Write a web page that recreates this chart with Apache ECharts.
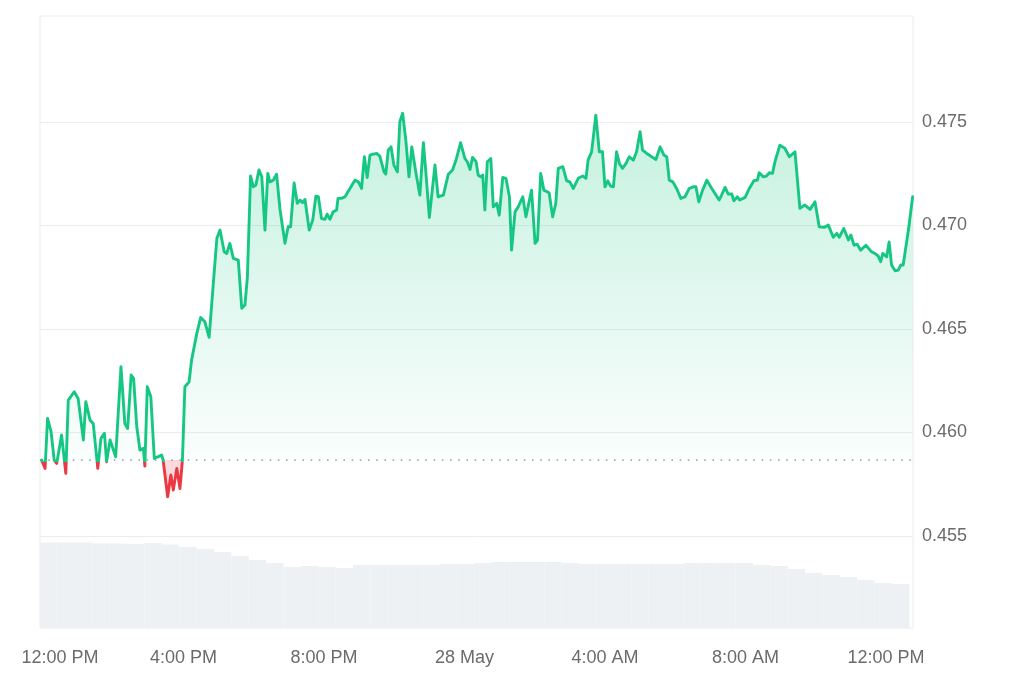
<!DOCTYPE html>
<html>
<head>
<meta charset="utf-8">
<script src="https://cdn.jsdelivr.net/npm/echarts@6/dist/echarts.min.js"></script>
<style>html,body{margin:0;padding:0;background:#fff}#c{width:1024px;height:683px}</style>
</head>
<body>
<div id="c"></div>
<script>
// hours since 12:00 PM (27 May)
const times = [-0.04,0.06,0.13,0.23,0.32,0.39,0.53,0.65,0.72,0.89,1.00,1.15,1.22,1.34,1.43,1.56,1.65,1.75,1.81,1.91,2.07,2.22,2.33,2.41,2.51,2.58,2.67,2.76,2.86,2.90,2.97,3.07,3.17,3.38,3.42,3.55,3.64,3.71,3.81,3.90,3.97,4.04,4.16,4.23,4.38,4.49,4.61,4.73,4.95,5.04,5.16,5.23,5.32,5.42,5.56,5.66,5.75,5.82,5.91,5.99,6.06,6.15,6.23,6.32,6.40,6.46,6.56,6.65,6.75,6.89,6.98,7.05,7.15,7.24,7.32,7.39,7.46,7.58,7.68,7.77,7.84,7.93,8.03,8.09,8.17,8.26,8.36,8.40,8.50,8.60,8.74,8.88,8.98,9.07,9.15,9.23,9.31,9.40,9.50,9.59,9.71,9.76,9.83,9.91,9.99,10.09,10.16,10.24,10.33,10.42,10.50,10.62,10.73,10.83,10.90,11.00,11.16,11.25,11.40,11.54,11.66,11.76,11.89,12.01,12.08,12.16,12.23,12.33,12.39,12.46,12.52,12.58,12.65,12.75,12.82,12.92,12.99,13.09,13.18,13.28,13.34,13.44,13.53,13.66,13.75,13.91,14.01,14.08,14.17,14.26,14.41,14.51,14.60,14.67,14.80,14.91,15.00,15.10,15.24,15.37,15.46,15.52,15.62,15.74,15.84,15.93,16.00,16.08,16.16,16.24,16.33,16.41,16.50,16.60,16.69,16.81,16.90,17.00,17.07,17.19,17.33,17.45,17.57,17.68,17.76,17.83,17.93,18.04,18.16,18.28,18.40,18.51,18.59,18.67,18.78,18.90,19.04,19.16,19.25,19.32,19.42,19.51,19.61,19.67,19.77,19.84,19.99,20.11,20.24,20.34,20.39,20.51,20.60,20.68,20.77,20.84,20.98,21.12,21.25,21.41,21.55,21.69,21.84,21.98,22.10,22.24,22.36,22.50,22.60,22.67,22.80,22.93,23.00,23.09,23.18,23.28,23.43,23.59,23.71,23.78,23.85,23.91,24.02,24.09,24.16,24.26,24.35,24.42,24.49,24.64,24.76];
const prices = [0.45866,0.45826,0.46067,0.46003,0.45866,0.4585,0.45987,0.45802,0.46156,0.46196,0.46164,0.45963,0.46148,0.46059,0.46043,0.45826,0.45971,0.45995,0.45858,0.45963,0.45882,0.46317,0.46043,0.46019,0.46277,0.46261,0.46027,0.45914,0.45923,0.45837,0.4622,0.46172,0.45874,0.4589,0.45866,0.45689,0.45794,0.45721,0.45826,0.45729,0.45866,0.4622,0.46244,0.46349,0.46478,0.46555,0.46534,0.46459,0.46937,0.46977,0.46872,0.46864,0.46913,0.4684,0.46832,0.46599,0.46615,0.46751,0.47238,0.47186,0.47194,0.47267,0.47234,0.46977,0.47251,0.4721,0.47218,0.47247,0.47074,0.46913,0.46993,0.46993,0.47205,0.47106,0.47122,0.47109,0.47125,0.46977,0.47025,0.47141,0.47138,0.47033,0.47029,0.47054,0.47029,0.47065,0.47074,0.4713,0.4713,0.47138,0.47178,0.47218,0.4721,0.47178,0.47331,0.47231,0.47339,0.47344,0.47347,0.47334,0.47258,0.47247,0.47363,0.47379,0.47291,0.47258,0.475,0.47541,0.47412,0.47234,0.47379,0.47251,0.47146,0.47399,0.47258,0.47038,0.47291,0.47138,0.47146,0.47247,0.47267,0.47315,0.47399,0.47323,0.47307,0.4727,0.47328,0.47307,0.47243,0.47234,0.47243,0.47074,0.47307,0.47323,0.47089,0.47106,0.47049,0.47231,0.47227,0.47138,0.4688,0.47065,0.47089,0.47138,0.47041,0.4717,0.46913,0.46929,0.47251,0.4717,0.47157,0.47041,0.47106,0.47275,0.47283,0.47215,0.4721,0.47178,0.47227,0.47238,0.47227,0.47315,0.47355,0.47532,0.47355,0.47355,0.47186,0.47215,0.47189,0.47186,0.47355,0.47299,0.47275,0.47299,0.47331,0.47315,0.47355,0.47452,0.47363,0.47347,0.47331,0.47318,0.47379,0.47339,0.47331,0.47218,0.4721,0.47178,0.4713,0.47138,0.47178,0.47186,0.47186,0.47114,0.4717,0.47218,0.47178,0.47146,0.47122,0.47146,0.47183,0.47151,0.47151,0.47118,0.47138,0.47122,0.47135,0.47178,0.47215,0.47218,0.47254,0.47234,0.47238,0.47254,0.47251,0.47307,0.47387,0.47372,0.47331,0.47355,0.47082,0.47098,0.47077,0.47114,0.46993,0.4699,0.47001,0.46942,0.46961,0.46942,0.46985,0.46929,0.46953,0.46904,0.46909,0.4688,0.46904,0.46872,0.46861,0.46851,0.46824,0.46864,0.46848,0.4692,0.46808,0.4678,0.46784,0.46808,0.46808,0.46977,0.47138];
const baseline = 0.45866;

const volTimes = [0.165,0.66,1.155,1.65,2.145,2.64,3.135,3.63,4.125,4.62,5.115,5.61,6.105,6.6,7.095,7.59,8.085,8.58,9.075,9.57,10.065,10.56,11.055,11.55,12.045,12.54,13.035,13.53,14.025,14.52,15.015,15.51,16.005,16.5,16.995,17.49,17.985,18.48,18.975,19.47,19.965,20.46,20.955,21.45,21.945,22.44,22.935,23.43,23.925,24.42];
const volumes = [13.97,13.97,13.97,13.81,13.81,13.73,13.89,13.64,13.24,12.91,12.42,11.76,11.11,10.62,9.97,10.13,9.97,9.80,10.29,10.29,10.29,10.29,10.29,10.46,10.46,10.62,10.78,10.78,10.78,10.78,10.62,10.46,10.46,10.46,10.46,10.46,10.46,10.62,10.62,10.62,10.62,10.29,10.13,9.64,8.99,8.66,8.33,7.84,7.35,7.19];

const xTickValues = [0,4,8,12,16,20,24];
const xTickLabels = ['12:00 PM','4:00 PM','8:00 PM','28 May','4:00 AM','8:00 AM','12:00 PM'];
const yTickValues = [0.455,0.460,0.465,0.470,0.475];

const n = Math.min(times.length, prices.length);
const priceData = [];
for (let i = 0; i < n; i++) priceData.push([times[i], prices[i]]);
const volData = volTimes.map((t, i) => [t, volumes[i]]);

const dMax = Math.max(...prices.slice(0, n));
const dMin = Math.min(...prices.slice(0, n));
const pMax = Math.max(dMax, baseline), pMin = Math.min(dMin, baseline);
const offArea = (pMax - baseline) / (pMax - pMin);
const offLine = (dMax - baseline) / (dMax - dMin);

const green = '#16c784', red = '#ea3943';
const font = 'Liberation Sans, Arial, sans-serif';
const labelColor = '#6b6b6b';
const xMin = -0.085, xMax = 24.77;

const chart = echarts.init(document.getElementById('c'), null, {renderer: 'canvas'});
chart.setOption({
  animation: false,
  backgroundColor: '#fff',
  grid: {left: 40, right: 111, top: 16, bottom: 55, show: true, borderColor: '#ececec', borderWidth: 1},
  xAxis: {
    type: 'value', min: xMin, max: xMax,
    axisLine: {show: false}, splitLine: {show: false},
    axisTick: {show: false, customValues: xTickValues},
    axisLabel: {
      customValues: xTickValues, margin: 21, color: labelColor, fontSize: 18, fontFamily: font,
      formatter: function (v) {
        const i = xTickValues.indexOf(Math.round(v));
        if (i === 0) return '{first|' + xTickLabels[0] + '}';
        return i >= 0 ? xTickLabels[i] : '';
      },
      rich: {first: {padding: [0, 0, 0, 34], color: labelColor, fontSize: 18, fontFamily: font}}
    }
  },
  yAxis: [{
    type: 'value', position: 'right', min: 0.45055, max: 0.48011, scale: true,
    axisLine: {show: false},
    axisTick: {show: false, customValues: yTickValues},
    splitLine: {show: true, lineStyle: {color: '#ececec', width: 1}},
    axisLabel: {customValues: yTickValues, margin: 9, color: labelColor, fontSize: 18, fontFamily: font,
      padding: [4, 0, 0, 0], formatter: v => v.toFixed(3)}
  }, {
    type: 'value', min: 0, max: 100, show: false
  }],
  series: [{
    type: 'bar', yAxisIndex: 1, data: volData, barWidth: 17.39, silent: true, clip: true,
    itemStyle: {color: '#edf1f4'}, z: 1
  }, {
    type: 'line', data: [[xMin, baseline], [xMax, baseline]], showSymbol: false, symbol: 'none', silent: true, z: 2,
    lineStyle: {type: [1.6, 6.6], color: '#8a8a8a', width: 1.4}
  }, {
    type: 'line', data: priceData, showSymbol: false, symbol: 'none', z: 3,
    lineStyle: {
      width: 2.9, join: 'round', cap: 'round',
      color: new echarts.graphic.LinearGradient(0, 0, 0, 1, [
        {offset: 0, color: green},
        {offset: offLine, color: green},
        {offset: offLine, color: red},
        {offset: 1, color: red}
      ])
    },
    areaStyle: {
      origin: baseline,
      color: new echarts.graphic.LinearGradient(0, 0, 0, 1, [
        {offset: 0, color: 'rgba(22,199,132,0.25)'},
        {offset: offArea, color: 'rgba(22,199,132,0.02)'},
        {offset: offArea, color: 'rgba(234,57,67,0.18)'},
        {offset: 1, color: 'rgba(234,57,67,0.22)'}
      ]),
      opacity: 1
    }
  }]
});
</script>
</body>
</html>
